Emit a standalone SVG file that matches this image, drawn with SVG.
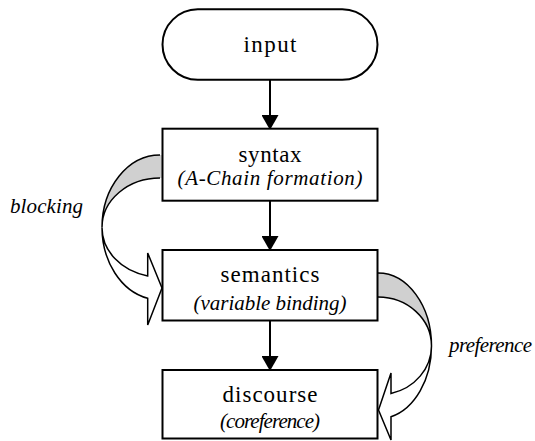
<svg xmlns="http://www.w3.org/2000/svg" width="535" height="441" viewBox="0 0 535 441">
<defs>
<style>
.box{fill:#fff;stroke:#000;stroke-width:2}
.t{font-family:'Liberation Serif',serif;font-size:23px;fill:#000;text-anchor:middle}
.i{font-family:'Liberation Serif',serif;font-size:21px;font-style:italic;fill:#000;text-anchor:middle}
.lbl{font-family:'Liberation Serif',serif;font-size:21px;font-style:italic;fill:#000}
.conn{stroke:#000;stroke-width:2;fill:none}
.back{fill:#d0d0d0;stroke:none}
.arc{fill:none;stroke:#000;stroke-width:1.5}
.front{fill:#fff;stroke:#000;stroke-width:1.5;stroke-linejoin:miter}
</style>
<marker id="ah" markerUnits="userSpaceOnUse" markerWidth="17" markerHeight="17" refX="13" refY="8.5" orient="auto">
<path d="M0,0 L15,8.5 L0,17 Z" fill="#000"/>
</marker>
</defs>

<g id="blocking-arrow">
<path class="back" d="M162,155 L160,155 A58,72.5 0 0 0 102,227.5 A58,49.5 0 0 1 160,178 L162,178 Z"/>
<path class="arc" d="M160,155 A58,72.5 0 0 0 102,227.5 A58,49.5 0 0 1 160,178"/>
<path class="front" d="M102,227.5 A58,49.5 0 0 0 147.7,275.9 L147.7,253 L162,288 L147.7,325 L147.7,298.3 A58,72.5 0 0 1 102,227.5 Z"/>
<text class="lbl" x="10" y="213" textLength="73">blocking</text>
</g>

<g id="preference-arrow">
<path class="back" d="M377,273 L378,273 A53.5,73 0 0 1 431.5,346 A53.5,49 0 0 0 378,297 L377,297 Z"/>
<path class="arc" d="M378,273 A53.5,73 0 0 1 431.5,346 A53.5,49 0 0 0 378,297"/>
<path class="front" d="M431.5,346 A53.5,49 0 0 1 391,393.5 L391,373 L378.5,410 L391,440 L391,416.8 A53.5,73 0 0 0 431.5,346 Z"/>
<text class="lbl" x="449" y="352" textLength="83">preference</text>
</g>

<g id="connectors">
<line class="conn" x1="270" y1="80" x2="270" y2="128" marker-end="url(#ah)"/>
<line class="conn" x1="270" y1="201" x2="270" y2="249" marker-end="url(#ah)"/>
<line class="conn" x1="270" y1="321" x2="270" y2="369" marker-end="url(#ah)"/>
</g>

<g id="input">
<rect class="box" x="162.5" y="9.3" width="215" height="70.5" rx="35.25" ry="35.25"/>
<text class="t" x="270" y="52" textLength="53">input</text>
</g>

<g id="syntax">
<rect class="box" x="162.5" y="128.7" width="215" height="72"/>
<text class="t" x="270" y="161.5" textLength="63">syntax</text>
<text class="i" x="270" y="185" textLength="185">(A-Chain formation)</text>
</g>

<g id="semantics">
<rect class="box" x="162.5" y="250" width="215" height="70.5"/>
<text class="t" x="270" y="282" textLength="99">semantics</text>
<text class="i" x="270" y="310" textLength="153">(variable binding)</text>
</g>

<g id="discourse">
<rect class="box" x="162.5" y="370" width="215" height="68.5"/>
<text class="t" x="270" y="401.5" textLength="95">discourse</text>
<text class="i" x="270" y="428" textLength="100">(coreference)</text>
</g>
</svg>
